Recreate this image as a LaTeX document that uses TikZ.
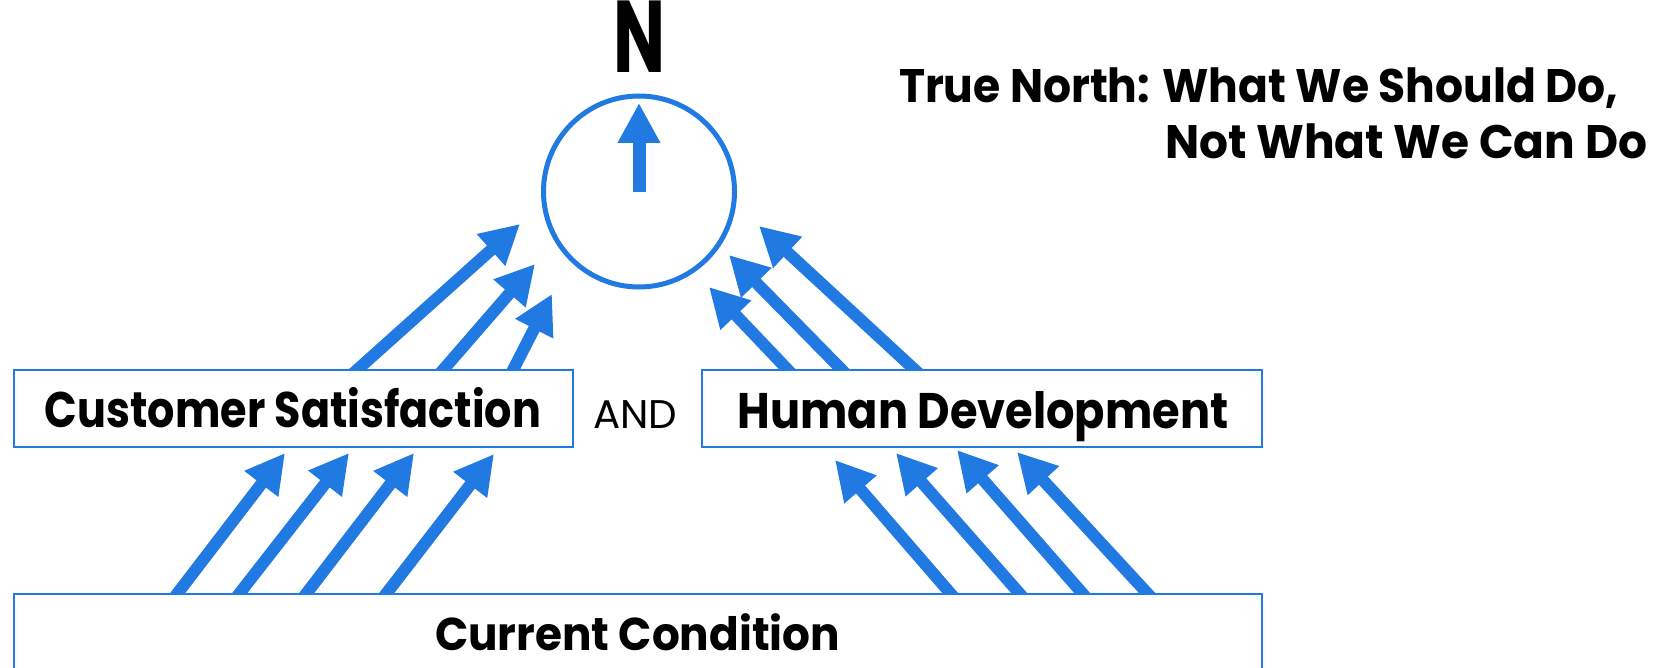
\documentclass[tikz,border=0pt]{standalone}
\usepackage{fontspec}
\setmainfont{Poppins}
\usetikzlibrary{arrows.meta,calc}
\definecolor{tnblue}{RGB}{33,121,226}
\newcommand\fitw[2]{\resizebox{#1}{\height}{#2}}
\begin{document}
\begin{tikzpicture}[x=0.5pt,y=-0.5pt,
  arr/.style={line width=6pt, draw=tnblue, -{Triangle[length=19.5pt,width=20pt]}},
  box/.style={draw=tnblue, line width=1pt, fill=white, inner sep=0pt, rectangle},
  lbl/.style={inner sep=0pt, anchor=base, text=black},
]
\useasboundingbox (0,0) rectangle (1664,668);
% coordinates
\coordinate (ll1s) at (177,594); \coordinate (ll1e) at (285,453);
\coordinate (ll2s) at (239,594); \coordinate (ll2e) at (349,453);
\coordinate (ll3s) at (306,594); \coordinate (ll3e) at (414,453);
\coordinate (ll4s) at (386,594); \coordinate (ll4e) at (494,454);
\coordinate (lr1s) at (951,594); \coordinate (lr1e) at (835,460);
\coordinate (lr2s) at (1020,594); \coordinate (lr2e) at (896,453);
\coordinate (lr3s) at (1083,594); \coordinate (lr3e) at (957,450);
\coordinate (lr4s) at (1148,594); \coordinate (lr4e) at (1017,452);
\coordinate (ul1s) at (357,370); \coordinate (ul1e) at (520,224);
\coordinate (ul2s) at (443,370); \coordinate (ul2e) at (535,264);
\coordinate (ul3s) at (513,370); \coordinate (ul3e) at (552,294);
\coordinate (ur1s) at (788,370); \coordinate (ur1e) at (709,287);
\coordinate (ur2s) at (842,370); \coordinate (ur2e) at (729,255);
\coordinate (ur3s) at (915,370); \coordinate (ur3e) at (759,226);
% arrows
\foreach \a in {ll1,ll2,ll3,ll4,lr1,lr2,lr3,lr4,ul1,ul2,ul3,ur1,ur2,ur3}{
  \draw[arr] ($(\a s)!-4pt!(\a e)$) -- (\a e);
}
% boxes
\node[box, minimum width=279.5pt, minimum height=38.5pt] (csbox) at (293.5,408.5) {};
\node[box, minimum width=280pt, minimum height=38.5pt] (hdbox) at (982,408.5) {};
\node[box, minimum width=624pt, minimum height=63pt] (ccbox) at (638,657) {};
% compass
\node[circle, draw=tnblue, line width=2.5pt, minimum size=95.5pt, inner sep=0pt] (comp) at (639,191.5) {};
\coordinate (ns) at (639,192); \coordinate (ne) at (639,103);
\draw[line width=6.5pt, draw=tnblue, -{Triangle[length=20pt,width=20pt]}] (ns) -- (ne);
% texts
\node[lbl] (north) at (639,73) {\fitw{26pt}{\fontsize{51pt}{51pt}\selectfont\bfseries N}};
\node[lbl] (cs) at (293,427) {\fitw{248pt}{\fontsize{25pt}{25pt}\selectfont\bfseries Customer Satisfaction}};
\node[lbl] (and) at (635,428) {\fitw{42pt}{\fontsize{20pt}{20pt}\selectfont AND}};
\node[lbl] (hd) at (983,428) {\fitw{245.5pt}{\fontsize{25pt}{25pt}\selectfont\bfseries Human Development}};
\node[lbl] (cc) at (637.5,650) {\fitw{202.5pt}{\fontsize{23pt}{23pt}\selectfont\bfseries Current Condition}};
\node[lbl] (tn1) at (1258.5,103) {\fitw{359.5pt}{\fontsize{23.5pt}{23.5pt}\selectfont\bfseries True North: What We Should Do,}};
\node[lbl] (tn2) at (1406,159) {\fitw{241pt}{\fontsize{23.5pt}{23.5pt}\selectfont\bfseries Not What We Can Do}};
\end{tikzpicture}
\end{document}
